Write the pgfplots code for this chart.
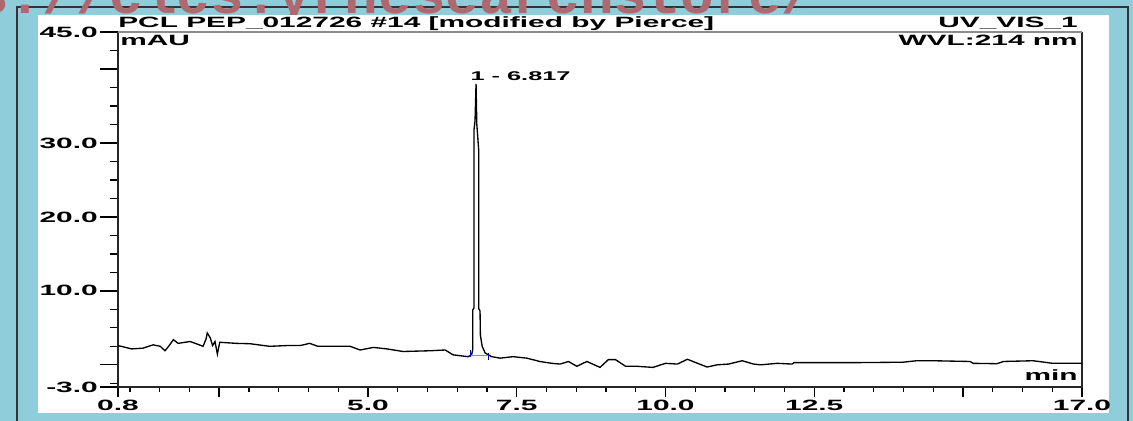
\documentclass[border=0pt]{standalone}
\usepackage{fontspec}
\setmainfont{Liberation Sans}[FakeStretch=2.0]
\newfontfamily\wmfont{Liberation Mono}
\usepackage{pgfplots}
\pgfplotsset{compat=1.18}
\definecolor{bgblue}{HTML}{8FCDDB}
\definecolor{wmred}{HTML}{B06870}
\definecolor{framegray}{HTML}{333333}
\newcommand{\chromfont}{\bfseries\fontsize{11.2}{13}\selectfont}

\pgfplotstableread{
t v
0.80 2.6
1.03 2.15
1.22 2.25
1.39 2.7
1.51 2.5
1.59 1.9
1.66 2.6
1.73 3.4
1.81 2.9
2.01 3.15
2.10 2.9
2.23 2.5
2.28 3.5
2.30 4.3
2.35 3.65
2.39 2.6
2.43 3.15
2.47 1.45
2.51 3.05
2.79 2.9
3.02 2.85
3.35 2.5
3.63 2.6
3.86 2.6
4.02 2.9
4.16 2.5
4.70 2.5
4.87 2.0
5.09 2.35
5.32 2.15
5.59 1.8
6.04 1.9
6.30 2.0
6.43 1.35
6.68 1.1
6.74 1.3
6.761 2.0
6.761 7.4
6.783 7.7
6.783 31.8
6.80 33.0
6.817 38.0
6.83 32.5
6.862 29.0
6.862 7.6
6.884 7.3
6.89 4.0
6.92 2.5
6.97 1.6
7.08 1.1
7.22 0.9
7.44 1.1
7.67 0.9
7.89 0.45
8.09 0.2
8.23 0.1
8.37 0.45
8.51 -0.2
8.68 0.45
8.90 -0.35
9.04 0.7
9.16 0.7
9.33 -0.2
9.52 -0.2
9.79 -0.35
10.00 0.2
10.20 0.1
10.37 0.75
10.54 0.2
10.70 -0.3
10.87 0.0
11.06 0.1
11.29 0.55
11.48 0.1
11.60 0.0
11.88 0.2
12.13 0.1
12.16 0.3
13.27 0.3
13.99 0.35
14.22 0.55
14.50 0.55
15.12 0.45
15.17 0.2
15.57 0.15
15.68 0.45
16.18 0.55
16.51 0.2
17.00 0.2
}\uvvis

\begin{document}
\begin{tikzpicture}[x=0.75pt,y=0.75pt]
\path[use as bounding box] (0,0) rectangle (1133,421);
\fill[bgblue] (0,0) rectangle (1133,421);
\draw[framegray, line width=1.5pt] (17,0) -- (17,414) -- (1128,414) -- (1128,0);
% watermark, cut at the top edge
\begin{scope}
\clip (0,0) rectangle (1133,421);
\node[anchor=base west, inner sep=0, text=wmred, font=\wmfont\bfseries\fontsize{42}{42}\selectfont] at (-25,407) {s://clcs.yrhesearchstore/};
\end{scope}
\fill[white] (38,8) rectangle (1109,406);

% titles
\node[anchor=base west, inner sep=0, font=\chromfont] at (118,393) {PCL PEP\_012726 \#14 [modified by Pierce]};
\node[anchor=base east, inner sep=0, font=\chromfont] at (1078,393) {UV\_VIS\_1};
\node[anchor=base west, inner sep=0, font=\chromfont] at (120,375) {mAU};
\node[anchor=base east, inner sep=0, font=\chromfont] at (1078,375) {WVL:214 nm};
\node[anchor=base east, inner sep=0, font=\chromfont] at (1078,40) {min};

% x ticks
\begin{axis}[
    at={(88.5pt,25.5pt)}, anchor=south west,
    scale only axis, width=723pt, height=266.25pt,
    xmin=0.8, xmax=17, ymin=-3, ymax=45,
    axis line style={draw=none},
    tick align=outside, xtick pos=bottom, ytick=\empty,
    xtick={0.8,2.5,5,7.5,10,12.5,15,17},
    xticklabels={0.8,,5.0,7.5,10.0,12.5,,17.0},
    minor xtick={1,1.5,...,16.5},
    major tick length=7.5pt, minor tick length=3.75pt,
    tick style={line width=1pt, black},
    xticklabel style={font=\chromfont, inner sep=2pt},
]
\end{axis}

% y ticks and trace
\begin{axis}[
    at={(88.5pt,25.5pt)}, anchor=south west,
    scale only axis, width=723pt, height=266.25pt,
    xmin=0.8, xmax=17, ymin=-3, ymax=45,
    axis line style={draw=none},
    clip=false,
    tick align=outside, ytick pos=left, xtick=\empty,
    ytick={-3,0,10,20,30,40,45},
    yticklabels={-3.0,,10.0,20.0,30.0,,45.0},
    minor ytick={-2.5,0,...,42.5},
    major tick length=13.5pt, minor tick length=6pt,
    tick style={line width=1pt, black},
    yticklabel style={font=\chromfont, inner sep=1.5pt},
]
\draw[black!85, line width=1.1pt] (rel axis cs:0,1) -- (rel axis cs:0,0) -- (rel axis cs:1,0) -- (rel axis cs:1,1);
\draw[black!45, line width=1.1pt] (rel axis cs:0,1) -- (rel axis cs:1,1);
\addplot[black, line width=1pt] table[x=t, y=v] {\uvvis};
\addplot[red!60, line width=0.5pt] coordinates {(6.72,1.26) (7.02,1.26)};
\addplot[blue!80!black, line width=0.8pt] coordinates {(6.72,1.0) (6.72,2.0)};
\addplot[blue!80!black, line width=0.8pt] coordinates {(7.02,0.7) (7.02,1.6)};
\node[anchor=base west, inner sep=0, font=\bfseries\fontsize{9.5}{11}\selectfont] at (axis cs:6.72,38.5) {1 - 6.817};
\end{axis}
\end{tikzpicture}
\end{document}
